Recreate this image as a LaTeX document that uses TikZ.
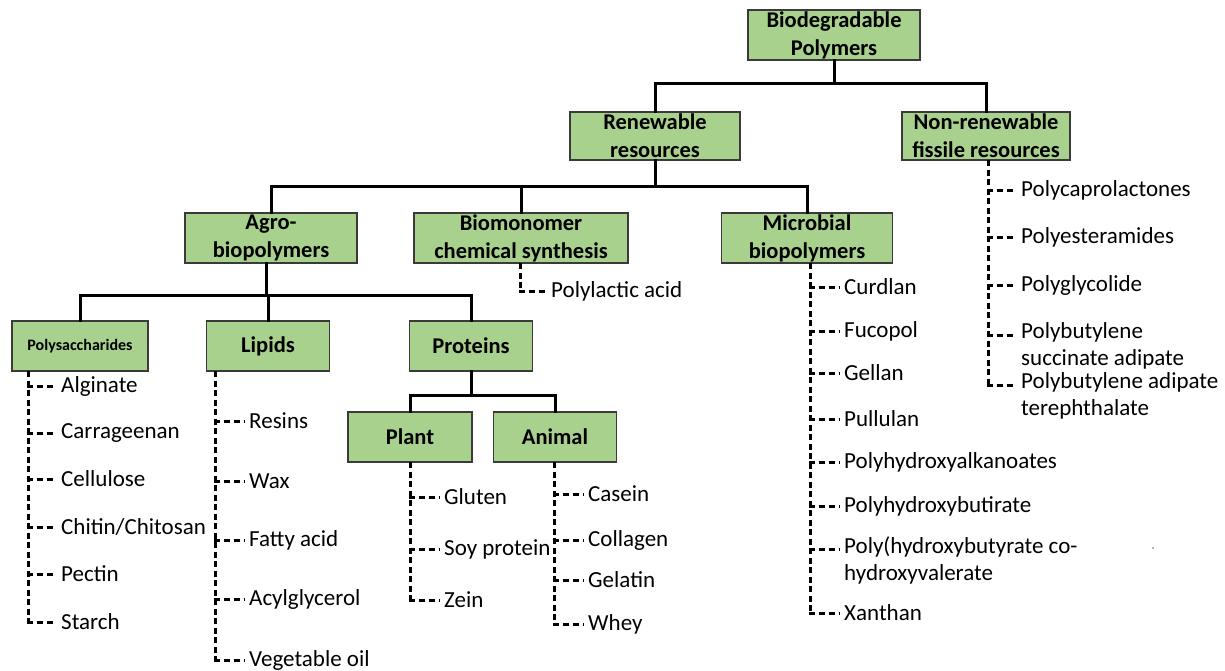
\documentclass[tikz,border=0pt]{standalone}
\usepackage{fontspec}
\setmainfont{Carlito}
\definecolor{boxfill}{HTML}{A9D18E}
\definecolor{boxline}{HTML}{3A3A3A}
\begin{document}
\begin{tikzpicture}[x=1pt,y=-1pt,
  box/.style={draw=boxline, line width=1.3pt, fill=boxfill, align=center, inner sep=0pt,
    font=\fontsize{22.5}{28}\selectfont\bfseries},
  tree/.style={line width=3pt, line cap=rect},
  dline/.style={line width=3pt, dash pattern=on 6pt off 3.5pt},
  hline/.style={line width=3pt, dash pattern=on 6pt off 4pt},
  item/.style={anchor=west, inner sep=2pt, align=left, font=\fontsize{23}{27}\selectfont}]
\useasboundingbox (0,0) rectangle (1225,670);

% boxes
\node[box, minimum width=172, minimum height=50] (bio) at (834,35) {Biodegradable\\Polymers};
\node[box, minimum width=170, minimum height=48] (ren) at (655,136) {Renewable\\resources};
\node[box, minimum width=168, minimum height=48] (non) at (986,136) {Non-renewable\\fissile resources};
\node[box, minimum width=172, minimum height=50] (agro) at (271,238) {Agro-\\biopolymers};
\node[box, minimum width=214, minimum height=50] (biom) at (521,238) {Biomonomer\\chemical synthesis};
\node[box, minimum width=171, minimum height=50] (micr) at (807,238) {Microbial\\biopolymers};
\node[box, minimum width=136, minimum height=50, font=\fontsize{16}{19}\selectfont\bfseries] (poly) at (80,346) {Polysaccharides};
\node[box, minimum width=123, minimum height=50] (lip) at (268,346) {Lipids};
\node[box, minimum width=123, minimum height=50] (prot) at (471,346) {Proteins};
\node[box, minimum width=124, minimum height=50] (plant) at (410,437) {Plant};
\node[box, minimum width=123, minimum height=50] (anim) at (555,437) {Animal};

% solid tree connectors
\coordinate (j1) at (834,83);
\draw[tree] (bio.south) -- (j1);
\draw[tree] (j1) -| (ren.north);
\draw[tree] (j1) -| (non.north);
\coordinate (j2) at (655,186);
\draw[tree] (ren.south) -- (j2);
\draw[tree] (j2) -| (agro.north);
\draw[tree] (j2) -| (biom.north);
\draw[tree] (j2) -| (micr.north);
\coordinate (j3) at (266,295);
\draw[tree] (agro.south -| j3) -- (j3);
\draw[tree] (j3) -| (poly.north);
\draw[tree] (j3) -| (lip.north);
\draw[tree] (j3) -| (prot.north);
\coordinate (j4) at (471,395);
\draw[tree] (prot.south) -- (j4);
\draw[tree] (j4) -| (plant.north);
\draw[tree] (j4) -| (anim.north);

% spine tops
\coordinate (sbiom) at (520,263);
\coordinate (snon) at (988,160);
\coordinate (smic) at (810,263);
\coordinate (spoly) at (28,371);
\coordinate (slip) at (215,371);
\coordinate (splant) at (410,462);
\coordinate (sanim) at (554,462);

% items
\node[item] (pla) at (549,291) {Polylactic acid};

\node[item] (pcl) at (1019,190) {Polycaprolactones};
\node[item] (pea) at (1019,237) {Polyesteramides};
\node[item] (pgl) at (1019,285) {Polyglycolide};
\node[item, anchor=north west] (pbsa) at (1019,320) {Polybutylene\\succinate adipate};
\node[item, anchor=north west] (pbat) at (1019,370) {Polybutylene adipate\\terephthalate};
\coordinate (pbsa1) at ([yshift=-15pt]pbsa.north west);
\coordinate (pbat1) at ([yshift=-15pt]pbat.north west);

\node[item] (cur) at (842,287) {Curdlan};
\node[item] (fuc) at (842,331) {Fucopol};
\node[item] (gel) at (842,373) {Gellan};
\node[item] (pul) at (842,419) {Pullulan};
\node[item] (pha) at (842,462) {Polyhydroxyalkanoates};
\node[item] (phb) at (842,506) {Polyhydroxybutirate};
\node[item, anchor=north west] (phbv) at (842,534) {Poly(hydroxybutyrate co-\\hydroxyvalerate};
\coordinate (phbv1) at ([yshift=-15pt]phbv.north west);
\node[item] (xan) at (842,613) {Xanthan};

\node[item] (alg) at (59,386) {Alginate};
\node[item] (car) at (59,433) {Carrageenan};
\node[item] (cel) at (59,479) {Cellulose};
\node[item] (chi) at (59,527) {Chitin/Chitosan};
\node[item] (pec) at (59,574) {Pectin};
\node[item] (sta) at (59,622) {Starch};

\node[item] (res) at (247,421) {Resins};
\node[item] (wax) at (247,481) {Wax};
\node[item] (fat) at (247,540) {Fatty acid};
\node[item] (acy) at (247,599) {Acylglycerol};
\node[item] (veg) at (247,660) {Vegetable oil};

\node[item] (glu) at (442,497) {Gluten};
\node[item] (soy) at (442,549) {Soy protein};
\node[item] (zei) at (442,600) {Zein};

\node[item] (cas) at (586,494) {Casein};
\node[item] (col) at (586,540) {Collagen};
\node[item] (gla) at (586,580) {Gelatin};
\node[item] (whe) at (586,624) {Whey};

% dashed spines
\draw[dline] (sbiom) -- (sbiom |- pla.west);
\draw[dline] (snon) -- (snon |- pbat1);
\draw[dline] (smic) -- (smic |- xan.west);
\draw[dline] (spoly) -- (spoly |- sta.west);
\draw[dline] (slip) -- (slip |- veg.west);
\draw[dline] (splant) -- (splant |- zei.west);
\draw[dline] (sanim) -- (sanim |- whe.west);

% dashed branches
\draw[hline] ([xshift=-1.5pt]sbiom |- pla.west) -- ([xshift=-3pt]pla.west);
\foreach \n in {pcl,pea,pgl,pbsa1,pbat1} \draw[hline] ([xshift=-1.5pt]snon |- \n) -- ([xshift=-3pt]\n -| pcl.west);
\foreach \n in {cur,fuc,gel,pul,pha,phb,phbv1,xan} \draw[hline] ([xshift=-1.5pt]smic |- \n) -- ([xshift=-3pt]\n -| cur.west);
\foreach \n in {alg,car,cel,chi,pec,sta} \draw[hline] ([xshift=-1.5pt]spoly |- \n.west) -- ([xshift=-3pt]\n.west);
\foreach \n in {res,wax,fat,acy,veg} \draw[hline] ([xshift=-1.5pt]slip |- \n.west) -- ([xshift=-3pt]\n.west);
\foreach \n in {glu,soy,zei} \draw[hline] ([xshift=-1.5pt]splant |- \n.west) -- ([xshift=-3pt]\n.west);
\foreach \n in {cas,col,gla,whe} \draw[hline] ([xshift=-1.5pt]sanim |- \n.west) -- ([xshift=-3pt]\n.west);

\fill[black!60] (1153,548) circle (0.9);
\end{tikzpicture}
\end{document}
